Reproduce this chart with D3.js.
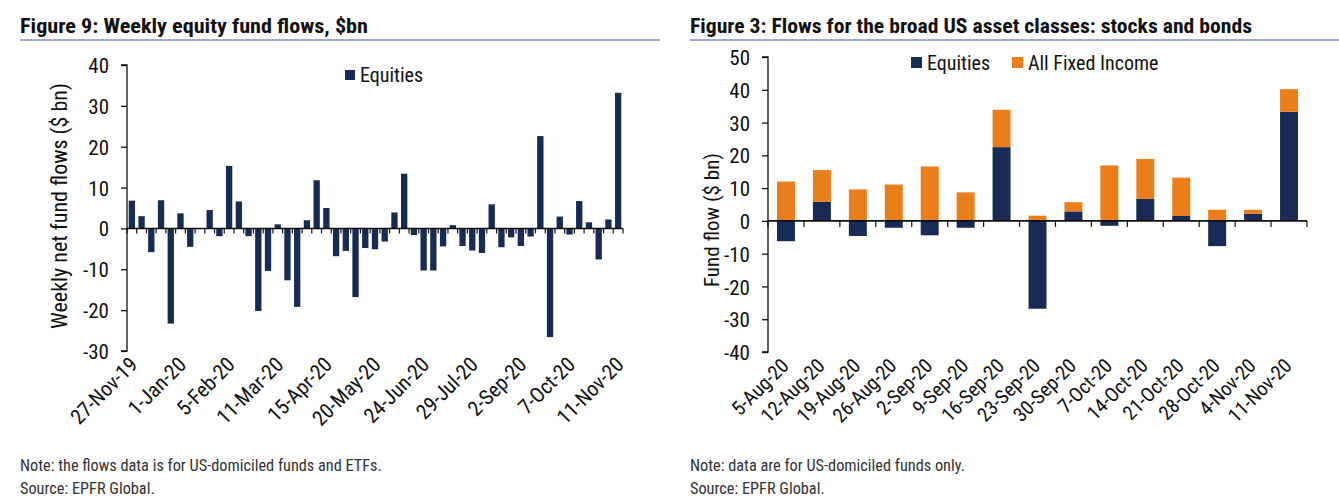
<!DOCTYPE html>
<html>
<head>
<meta charset="utf-8">
<script src="https://cdn.jsdelivr.net/npm/d3@7"></script>
<style>
  html, body { margin: 0; padding: 0; background: #fff; }
  svg { display: block; }
  text { font-family: "Liberation Sans Narrow", "Roboto Condensed", "DejaVu Sans Condensed", "Liberation Sans", sans-serif; }
</style>
</head>
<body>
<svg id="chart" width="1339" height="502"></svg>
<script>
// ---------- Data: Figure 9 (weekly equity fund flows) ----------
const weekLabels = ["27-Nov-19","1-Jan-20","5-Feb-20","11-Mar-20","15-Apr-20","20-May-20","24-Jun-20","29-Jul-20","2-Sep-20","7-Oct-20","11-Nov-20"];
const weeklyEquities = [
  6.8, 3.0, -5.8, 6.9, -23.3, 3.7, -4.5, 0.0, 4.5, -1.9,
  15.3, 6.6, -1.9, -20.2, -10.4, 1.0, -12.7, -19.2, 2.0, 11.8,
  5.0, -6.8, -5.5, -16.8, -4.8, -5.1, -3.2, 3.9, 13.4, -1.6,
  -10.3, -10.3, -4.4, 0.8, -4.3, -5.4, -6.0, 5.9, -4.6, -2.2,
  -4.3, -2.0, 22.6, -26.6, 2.9, -1.5, 6.7, 1.5, -7.6, 2.2,
  33.2
];
const leftYTicks = [-30, -20, -10, 0, 10, 20, 30, 40];

// ---------- Data: Figure 3 (stocks and bonds) ----------
const assetWeeks = ["5-Aug-20","12-Aug-20","19-Aug-20","26-Aug-20","2-Sep-20","9-Sep-20","16-Sep-20","23-Sep-20","30-Sep-20","7-Oct-20","14-Oct-20","21-Oct-20","28-Oct-20","4-Nov-20","11-Nov-20"];
const equitiesFlow    = [-6.2, 5.8, -4.6, -2.1, -4.4, -2.1, 22.5, -26.8, 2.9, -1.5, 6.7, 1.5, -7.7, 2.2, 33.3];
const fixedIncomeFlow = [12.0, 9.7, 9.6, 11.1, 16.6, 8.7, 11.4, 1.6, 2.8, 16.9, 12.2, 11.7, 3.4, 1.2, 6.9];
const rightYTicks = [-40, -30, -20, -10, 0, 10, 20, 30, 40, 50];

const NAVY = "#172b54";
const ORANGE = "#e97e1b";
const svg = d3.select("#chart");
const fmt = d => String(d);

function title(x, x2, txt, len) {
  svg.append("text").attr("x", x).attr("y", 33)
    .attr("font-size", 20).attr("font-weight", "bold").attr("fill", "#111")
    .attr("textLength", len).attr("lengthAdjust", "spacingAndGlyphs")
    .text(txt);
  svg.append("line").attr("x1", x).attr("x2", x2).attr("y1", 40).attr("y2", 40)
    .attr("stroke", "#8191b8").attr("stroke-width", 1.5);
}
function notes(x, l1, l2) {
  svg.append("text").attr("x", x).attr("y", 471).attr("font-size", 16.3).attr("fill", "#333").text(l1);
  svg.append("text").attr("x", x).attr("y", 494).attr("font-size", 16.3).attr("fill", "#333").text(l2);
}

// ================= LEFT CHART =================
title(20, 660, "Figure 9: Weekly equity fund flows, $bn", 348);
{
  const x = d3.scaleBand().domain(d3.range(weeklyEquities.length)).range([127, 623])
    .paddingInner(0.35).paddingOuter(0.175);
  const y = d3.scaleLinear().domain([-30, 40]).range([351, 65]);
  const g = svg.append("g");

  g.selectAll("rect.bar").data(weeklyEquities).join("rect")
    .attr("x", (d, i) => x(i)).attr("width", x.bandwidth())
    .attr("y", d => y(Math.max(0, d))).attr("height", d => Math.abs(y(d) - y(0)))
    .attr("fill", NAVY);

  // y axis
  const ya = d3.axisLeft(y).tickValues(leftYTicks).tickSize(6).tickPadding(12).tickFormat(fmt);
  const yg = g.append("g").attr("transform", "translate(127,0)").call(ya);
  yg.select(".domain").attr("stroke", "#111").attr("stroke-width", 1.3).attr("d", `M-6,${y(-30)}H0V${y(40)}H-6`);
  yg.selectAll(".tick line").attr("stroke", "#111").attr("stroke-width", 1.3);
  yg.selectAll(".tick text").attr("font-size", 21).attr("fill", "#111").attr("dy", "0.36em");

  // zero axis with ticks between categories
  const step = x.step();
  const zeroY = y(0);
  g.append("line").attr("x1", 127).attr("x2", 623).attr("y1", zeroY).attr("y2", zeroY)
    .attr("stroke", "#111").attr("stroke-width", 1.6);
  g.selectAll("line.xt").data(d3.range(weeklyEquities.length + 1)).join("line")
    .attr("x1", k => 127 + k * step).attr("x2", k => 127 + k * step)
    .attr("y1", zeroY).attr("y2", zeroY + 5).attr("stroke", "#111").attr("stroke-width", 1.2);

  // x labels every 5 weeks
  weekLabels.forEach((lab, k) => {
    const cx = x(k * 5) + x.bandwidth() / 2;
    g.append("text").attr("transform", `translate(${cx + 7},${366}) rotate(-45)`)
      .attr("text-anchor", "end").attr("font-size", 21).attr("fill", "#111").text(lab);
  });

  // y title
  g.append("text").attr("transform", `translate(67,${206}) rotate(-90)`)
    .attr("text-anchor", "middle").attr("font-size", 22).attr("fill", "#111")
    .text("Weekly net fund flows ($ bn)");

  // legend
  g.append("rect").attr("x", 345).attr("y", 70).attr("width", 10).attr("height", 10).attr("fill", NAVY);
  g.append("text").attr("x", 360).attr("y", 82).attr("font-size", 20).attr("fill", "#111").text("Equities");
}
notes(20, "Note: the flows data is for US-domiciled funds and ETFs.", "Source: EPFR Global.");

// ================= RIGHT CHART =================
title(690, 1339, "Figure 3: Flows for the broad US asset classes: stocks and bonds", 562);
{
  const rows = assetWeeks.map((w, i) => ({ week: w, eq: equitiesFlow[i], fi: fixedIncomeFlow[i] }));
  const stack = d3.stack().keys(["eq", "fi"]).offset(d3.stackOffsetDiverging)(rows);
  const x = d3.scaleBand().domain(assetWeeks).range([768, 1307]).paddingInner(0.5).paddingOuter(0.25);
  const y = d3.scaleLinear().domain([-40, 50]).range([352, 57]);
  const color = { eq: NAVY, fi: ORANGE };
  const g = svg.append("g");

  g.selectAll("g.layer").data(stack).join("g").attr("fill", s => color[s.key])
    .selectAll("rect").data(s => s).join("rect")
    .attr("x", d => x(d.data.week)).attr("width", x.bandwidth())
    .attr("y", d => y(d[1])).attr("height", d => y(d[0]) - y(d[1]));

  const ya = d3.axisLeft(y).tickValues(rightYTicks).tickSize(6).tickPadding(12).tickFormat(fmt);
  const yg = g.append("g").attr("transform", "translate(768,0)").call(ya);
  yg.select(".domain").attr("stroke", "#111").attr("stroke-width", 1.3).attr("d", `M-6,${y(-40)}H0V${y(50)}H-6`);
  yg.selectAll(".tick line").attr("stroke", "#111").attr("stroke-width", 1.3);
  yg.selectAll(".tick text").attr("font-size", 21).attr("fill", "#111").attr("dy", "0.36em");

  const step = x.step();
  const zeroY = y(0);
  g.append("line").attr("x1", 768).attr("x2", 1307).attr("y1", zeroY).attr("y2", zeroY)
    .attr("stroke", "#111").attr("stroke-width", 1.6);
  g.selectAll("line.xt").data(d3.range(assetWeeks.length + 1)).join("line")
    .attr("x1", k => 768 + k * step).attr("x2", k => 768 + k * step)
    .attr("y1", zeroY).attr("y2", zeroY + 6).attr("stroke", "#111").attr("stroke-width", 1.2);

  assetWeeks.forEach(w => {
    const cx = x(w) + x.bandwidth() / 2;
    g.append("text").attr("transform", `translate(${cx + 4},${367}) rotate(-45)`)
      .attr("text-anchor", "end").attr("font-size", 20).attr("fill", "#111").text(w);
  });

  g.append("text").attr("transform", `translate(719,${220}) rotate(-90)`)
    .attr("text-anchor", "middle").attr("font-size", 21).attr("fill", "#111")
    .text("Fund flow ($ bn)");

  g.append("rect").attr("x", 911).attr("y", 57).attr("width", 11).attr("height", 11).attr("fill", NAVY);
  g.append("text").attr("x", 927).attr("y", 70).attr("font-size", 20).attr("fill", "#111").text("Equities");
  g.append("rect").attr("x", 1012).attr("y", 57).attr("width", 11).attr("height", 11).attr("fill", ORANGE);
  g.append("text").attr("x", 1028).attr("y", 70).attr("font-size", 20).attr("fill", "#111").text("All Fixed Income");
}
notes(690, "Note: data are for US-domiciled funds only.", "Source: EPFR Global.");
</script>
</body>
</html>
